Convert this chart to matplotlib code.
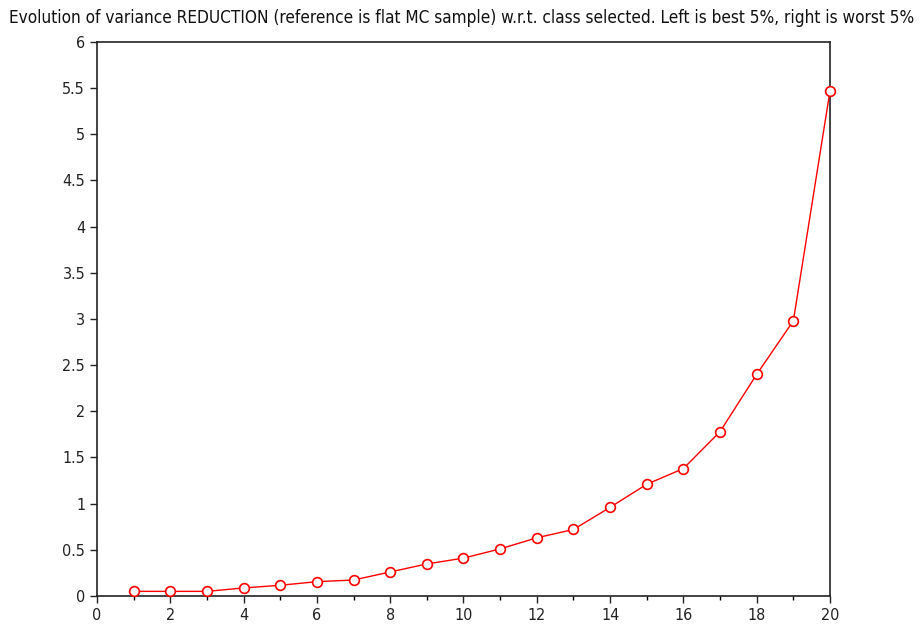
import matplotlib
matplotlib.use("Agg")
import matplotlib.pyplot as plt
from matplotlib.ticker import MultipleLocator

plt.rcParams['font.family'] = ['DejaVu Sans']

classes = list(range(1, 21))
reduction = [0.05, 0.05, 0.05, 0.087, 0.116, 0.155, 0.173, 0.26, 0.347, 0.41,
             0.51, 0.63, 0.72, 0.96, 1.21, 1.38, 1.78, 2.40, 2.98, 5.47]
title = ("Evolution of variance REDUCTION (reference is flat MC sample) w.r.t. class selected. "
         "Left is best 5%, right is worst 5%")

fig = plt.figure(figsize=(9.21, 6.31), dpi=100)
ax = fig.add_axes([0.1053, 0.0555, 0.7959, 0.878])
ax.plot(classes, reduction, color='#ff0000', lw=1.0, marker='o', markersize=7,
        markerfacecolor='white', markeredgecolor='#ff0000', markeredgewidth=1.2, clip_on=False, zorder=3)
ax.set_xlim(0, 20)
ax.set_ylim(0, 6)
ax.xaxis.set_major_locator(MultipleLocator(2))
ax.xaxis.set_minor_locator(MultipleLocator(1))
ax.set_yticks([0, 0.5, 1, 1.5, 2, 2.5, 3, 3.5, 4, 4.5, 5, 5.5, 6])
ax.set_yticklabels(['0', '0.5', '1', '1.5', '2', '2.5', '3', '3.5', '4', '4.5', '5', '5.5', '6'])
ax.tick_params(axis='both', which='major', direction='out', length=5, width=1, labelsize=11.5, colors='#222222')
ax.tick_params(axis='both', which='minor', direction='out', length=3, width=1)
for lab in ax.get_xticklabels() + ax.get_yticklabels():
    lab.set_fontstretch('condensed')
for s in ax.spines.values():
    s.set_linewidth(1.2)
    s.set_color('#222222')
fig.text(0.5016, 0.972, title, ha='center', va='center', fontsize=12.3, fontstretch='condensed', color='#111111')
fig.savefig('out.png', dpi=100)
